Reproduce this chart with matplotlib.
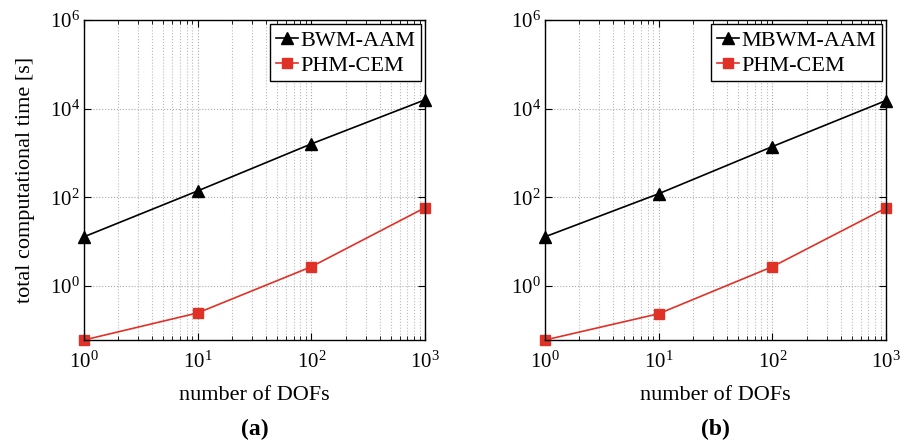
import numpy as np
import matplotlib
matplotlib.use("Agg")
import matplotlib.pyplot as plt
from matplotlib.ticker import LogLocator, NullLocator

plt.rcParams['font.family'] = ['Liberation Serif', 'DejaVu Serif']
plt.rcParams['mathtext.fontset'] = 'custom'
plt.rcParams['mathtext.rm'] = 'Liberation Serif'
plt.rcParams['mathtext.it'] = 'Liberation Serif:italic'

# data
dofs = [1, 10, 100, 1000]
bwm_a = [12.8, 139, 1600, 15800]
phm_a = [0.06, 0.245, 2.7, 58]
bwm_b = [12.8, 120, 1390, 15200]
phm_b = [0.06, 0.235, 2.7, 57]
labels_a = ['BWM-AAM', 'PHM-CEM']
labels_b = ['MBWM-AAM', 'PHM-CEM']
yticks = [1, 1e2, 1e4, 1e6]

fig = plt.figure(figsize=(9.05, 4.46), dpi=100)
ax1 = fig.add_axes([84/905, 1-340/446, 341/905, 320/446])
ax2 = fig.add_axes([545/905, 1-340/446, 341/905, 320/446])


def panel(ax, top, bottom, labels, tag):
    ax.loglog(dofs, top, '-^', color='black', lw=1.2, ms=9,
              markerfacecolor='black', label=labels[0], clip_on=False)
    ax.loglog(dofs, bottom, '-s', color='#e03127', lw=1.2, ms=7,
              markerfacecolor='#e03127', label=labels[1], clip_on=False)
    ax.set_xlim(1, 1000)
    ax.set_ylim(0.06, 1e6)
    ax.set_yticks(yticks)
    ax.yaxis.set_minor_locator(NullLocator())
    ax.xaxis.set_minor_locator(LogLocator(base=10, subs=np.arange(2, 10)))
    ax.grid(True, which='major', ls=':', color='#aaaaaa', lw=0.8)
    ax.grid(True, which='minor', axis='x', ls=':', color='#bbbbbb', lw=0.8)
    ax.tick_params(which='both', direction='in', top=True, right=True,
                   labelsize=15)
    ax.tick_params(axis='x', pad=8)
    ax.tick_params(axis='y', pad=3)
    ax.tick_params(which='major', length=5)
    ax.tick_params(which='minor', length=3)
    for s in ax.spines.values():
        s.set_linewidth(1.0)
    ax.set_xlabel('number of DOFs', fontsize=16, labelpad=10)
    leg = ax.legend(loc='upper right', fontsize=16, handlelength=1.0,
                    handletextpad=0.1, borderpad=0.25, labelspacing=0.2,
                    fancybox=False, framealpha=1, edgecolor='black',
                    borderaxespad=0.2)
    leg.get_frame().set_linewidth(1.0)
    ax.text(0.5, -0.28, tag, transform=ax.transAxes, ha='center',
            va='center', fontsize=17, fontweight='bold')


panel(ax1, bwm_a, phm_a, labels_a, '(a)')
panel(ax2, bwm_b, phm_b, labels_b, '(b)')
ax1.set_ylabel('total computational time [s]', fontsize=16, labelpad=11)

fig.savefig('out.png', dpi=100)
